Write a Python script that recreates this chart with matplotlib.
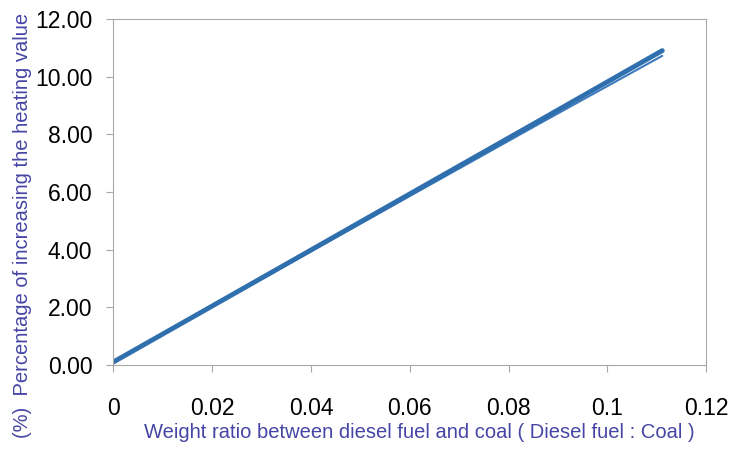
import numpy as np
import matplotlib.pyplot as plt

plt.rcParams['font.family'] = ['Liberation Sans', 'DejaVu Sans']

# weight ratio diesel : coal
ratio = [0.0, 0.0204, 0.0417, 0.0638, 0.0870, 0.1111]
# measured increase of heating value (%)
increase = [0.10, 2.08, 4.15, 6.30, 8.55, 10.90]
# linear trend
trend = [0.10, 2.06, 4.10, 6.22, 8.44, 10.72]

fig = plt.figure(figsize=(7.45, 4.5), dpi=100)
ax = fig.add_axes([0.152, 0.189, 0.796, 0.769])

ax.plot(ratio, trend, color="#3d7bbd", lw=1.5, solid_capstyle="round")
ax.plot(ratio, increase, color="#2f6fad", lw=3.5, solid_capstyle="round")

ax.set_xlim(0, 0.12)
ax.set_ylim(0, 12)
ax.set_xticks([0, 0.02, 0.04, 0.06, 0.08, 0.1, 0.12])
ax.set_xticklabels(["0", "0.02", "0.04", "0.06", "0.08", "0.1", "0.12"])
ax.set_yticks(np.arange(0, 13, 2))
ax.set_yticklabels(["%.2f" % v for v in np.arange(0, 13, 2)])

for s in ax.spines.values():
    s.set_color("#a8a8a8")
ax.tick_params(colors="#a8a8a8", labelcolor="black", labelsize=16.5, length=5)
ax.tick_params(axis="x", pad=18)
ax.tick_params(axis="y", pad=10)

lab_col = "#4545a5"
fig.text(419 / 745, 1 - 433 / 450,
         "Weight ratio between diesel fuel and coal ( Diesel fuel : Coal )",
         color=lab_col, fontsize=14.5, ha="center", va="center")
fig.text(23 / 745, 0.5, "(%)  Percentage of increasing the heating value",
         color=lab_col, fontsize=14.5, ha="center", va="center", rotation=90)

fig.savefig("out.png", dpi=100)
